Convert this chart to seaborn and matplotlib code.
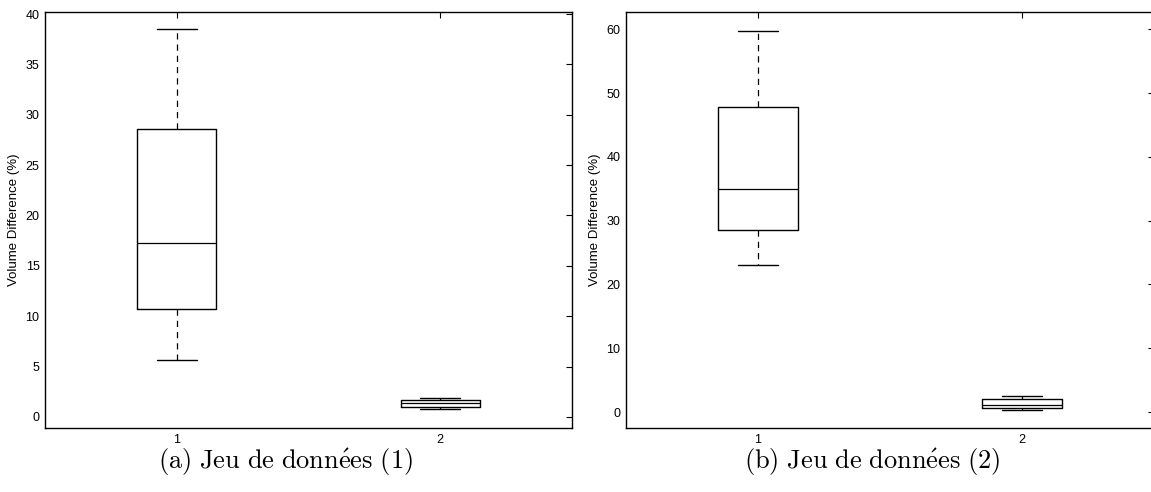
import numpy as np
import pandas as pd
import matplotlib
matplotlib.use("Agg")
import matplotlib.pyplot as plt
import seaborn as sns

# Five-number summaries (min, q1, median, q3, max)
groups = ["1", "2"]
set1_g1 = [5.7, 10.7, 17.3, 28.6, 38.5]
set1_g2 = [0.8, 1.0, 1.35, 1.7, 1.85]
set2_g1 = [23.0, 28.6, 35.0, 47.8, 59.8]
set2_g2 = [0.3, 0.6, 1.1, 2.1, 2.5]
yticks1 = [0, 5, 10, 15, 20, 25, 30, 35, 40]
yticks2 = [0, 10, 20, 30, 40, 50, 60]
ylabel = "Volume Difference (%)"
captions = [r"$\mathrm{(a)\ Jeu\ de\ donn\acute{e}es\ (1)}$",
            r"$\mathrm{(b)\ Jeu\ de\ donn\acute{e}es\ (2)}$"]

sns.set_style("white")
plt.rcParams["font.family"] = ["Liberation Sans", "DejaVu Sans"]
plt.rcParams["mathtext.fontset"] = "cm"
plt.rcParams["text.color"] = "black"
plt.rcParams["axes.labelcolor"] = "black"

fig = plt.figure(figsize=(11.51, 4.92), dpi=100)
W, H = 1151, 492
ax1 = fig.add_axes([45 / W, 1 - 428 / H, 527 / W, 416 / H])
ax2 = fig.add_axes([626 / W, 1 - 428 / H, 528 / W, 416 / H])

def make_df(a, b):
    return pd.DataFrame({
        "group": [groups[0]] * len(a) + [groups[1]] * len(b),
        "value": list(a) + list(b),
    })

for ax, (a, b), yt, ylim, cap, cx in [
    (ax1, (set1_g1, set1_g2), yticks1, (-1.1, 40.2), captions[0], 285),
    (ax2, (set2_g1, set2_g2), yticks2, (-2.5, 62.7), captions[1], 872),
]:
    df = make_df(a, b)
    sns.boxplot(data=df, x="group", y="value", order=groups, ax=ax,
                whis=(0, 100), width=0.3, fill=False, color="black",
                linecolor="black", linewidth=1.0, showfliers=False,
                whiskerprops=dict(linestyle=(0, (5, 4)), linewidth=0.9),
                medianprops=dict(color="black", linewidth=0.9))
    ax.set_xlim(-0.5, 1.5)
    ax.set_ylim(*ylim)
    ax.set_yticks(yt)
    ax.set_xlabel("")
    ax.set_ylabel(ylabel, fontsize=9.5, labelpad=4, color="black")
    ax.tick_params(direction="in", top=True, right=True, length=4,
                   width=0.8, labelsize=9, colors="black", pad=4)
    for s in ax.spines.values():
        s.set_visible(True)
        s.set_color("black")
        s.set_linewidth(1.0)
    fig.text(cx / W, 1 - 462 / H, cap, ha="center", va="center",
             fontsize=19, color="black")

fig.savefig("out.png", dpi=100, facecolor="white")
